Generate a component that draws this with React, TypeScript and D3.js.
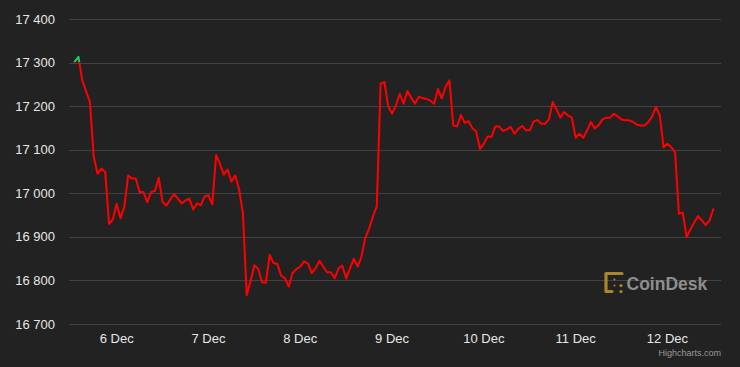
import React from "react";
import * as d3 from "d3";

// Hourly BTC price, first point 5 Dec 2022 13:00 UTC
const startTime = Date.UTC(2022, 11, 5, 13, 0);
const prices: number[] = [
  17302, 17314, 17260, 17235, 17210, 17085, 17045, 17057, 17049, 16930, 16940, 16976, 16943, 16969, 17041, 17034,
  17034, 17003, 17003, 16980, 17003, 17006, 17036, 16980, 16972, 16986, 16998, 16988, 16977, 16984, 16988, 16963,
  16977, 16973, 16993, 16996, 16975, 17088, 17068, 17043, 17055, 17027,
  17041, 17009, 16955, 16766, 16798, 16835, 16827, 16796, 16795, 16859, 16840, 16838, 16811, 16805, 16786, 16817,
  16826, 16832, 16844, 16839, 16817, 16828, 16845, 16832, 16819, 16819, 16805, 16828, 16834, 16805, 16828, 16850,
  16832, 16855, 16898, 16919, 16947, 16970, 17252, 17256, 17200, 17183,
  17202, 17229, 17206, 17235, 17220, 17206, 17222, 17219, 17217, 17213, 17206, 17240, 17218, 17245, 17260, 17156,
  17154, 17180, 17162, 17166, 17150, 17142, 17102, 17114, 17131, 17130, 17154, 17154, 17143, 17147, 17153, 17137,
  17148, 17155, 17145, 17145, 17165, 17169, 17160, 17160, 17170, 17210, 17193, 17174,
  17187, 17179, 17174, 17128, 17137, 17128, 17145, 17164, 17149, 17157, 17170, 17174, 17174, 17183, 17177, 17170,
  17168, 17168, 17164, 17158, 17156, 17156, 17164, 17177, 17199, 17179, 17106, 17114, 17106, 17095, 16953, 16956,
  16900, 16917, 16933, 16948, 16938, 16927, 16938, 16964,
];
const yTicks: number[] = [16700, 16800, 16900, 17000, 17100, 17200, 17300, 17400];
const xTickDates: number[] = [
  Date.UTC(2022, 11, 6), Date.UTC(2022, 11, 7), Date.UTC(2022, 11, 8), Date.UTC(2022, 11, 9),
  Date.UTC(2022, 11, 10), Date.UTC(2022, 11, 11), Date.UTC(2022, 11, 12),
];
const xDomain: number[] = [Date.UTC(2022, 11, 5, 11, 32), Date.UTC(2022, 11, 12, 14, 0)];

const W = 740, H = 367;
const plotLeft = 69, plotRight = 721, plotTop = 19.3, plotBottom = 324;

export default function App() {
  const data = prices.map((v, i) => ({ t: startTime + i * 3600 * 1000, v }));
  const x = d3.scaleUtc().domain(xDomain.map((d) => new Date(d))).range([plotLeft, plotRight]);
  const y = d3.scaleLinear().domain([16700, 17400]).range([plotBottom, plotTop]);
  const line = d3
    .line<{ t: number; v: number }>()
    .x((d) => x(new Date(d.t)))
    .y((d) => y(d.v));
  const path = line(data) || "";
  const fmt = d3.formatLocale({ decimal: ".", thousands: " ", grouping: [3], currency: ["", ""] }).format(",");
  const dfmt = d3.utcFormat("%-d %b");
  const thrY = y(prices[0]);
  const font = "'Liberation Sans', Arial, Helvetica, sans-serif";

  return (
    <div style={{ position: "absolute", left: 0, top: 0, width: W, height: H }}>
      <svg width={W} height={H} style={{ display: "block" }}>
        <rect x={0} y={0} width={W} height={H} fill="#222222" />
        <defs>
          <clipPath id="above">
            <rect x={0} y={0} width={W} height={thrY} />
          </clipPath>
          <clipPath id="below">
            <rect x={0} y={thrY} width={W} height={H - thrY} />
          </clipPath>
        </defs>
        {yTicks.map((t) => (
          <g key={t}>
            <line x1={plotLeft} x2={plotRight} y1={Math.round(y(t)) + 0.5} y2={Math.round(y(t)) + 0.5} stroke="#424242" strokeWidth={1} />
            <text x={55} y={y(t)} dy="0.35em" textAnchor="end" fill="#e6e6e6" fontSize={13} fontFamily={font}>
              {fmt(t)}
            </text>
          </g>
        ))}
        {xTickDates.map((d) => (
          <text key={d} x={x(new Date(d))} y={343} textAnchor="middle" fill="#e6e6e6" fontSize={13} fontFamily={font}>
            {dfmt(new Date(d))}
          </text>
        ))}
        {/* CoinDesk watermark */}
        <g fill="#a7862e" stroke="#a7862e">
          <path d="M622,273.5 L606,273.5 L606,291.5 L612,291.5" fill="none" strokeWidth={3.2} strokeLinecap="round" strokeLinejoin="round" />
          <circle cx={614.5} cy={279.5} r={1} stroke="none" />
          <circle cx={614.5} cy={285.5} r={1} stroke="none" />
          <circle cx={621} cy={285.5} r={1.6} stroke="none" />
          <circle cx={621} cy={291.5} r={1.6} stroke="none" />
        </g>
        <text x={626.5} y={289.5} fill="#8e8e8e" fontSize={17.5} fontWeight="bold" fontFamily={font}>
          CoinDesk
        </text>
        <path d={path} fill="none" stroke="#ff0000" strokeWidth={2} strokeLinejoin="round" strokeLinecap="round" clipPath="url(#below)" />
        <path d={path} fill="none" stroke="#1fc46a" strokeWidth={2} strokeLinejoin="round" strokeLinecap="round" clipPath="url(#above)" />
        <text x={721} y={356} textAnchor="end" fill="#999999" fontSize={9} fontFamily={font}>
          Highcharts.com
        </text>
      </svg>
    </div>
  );
}
